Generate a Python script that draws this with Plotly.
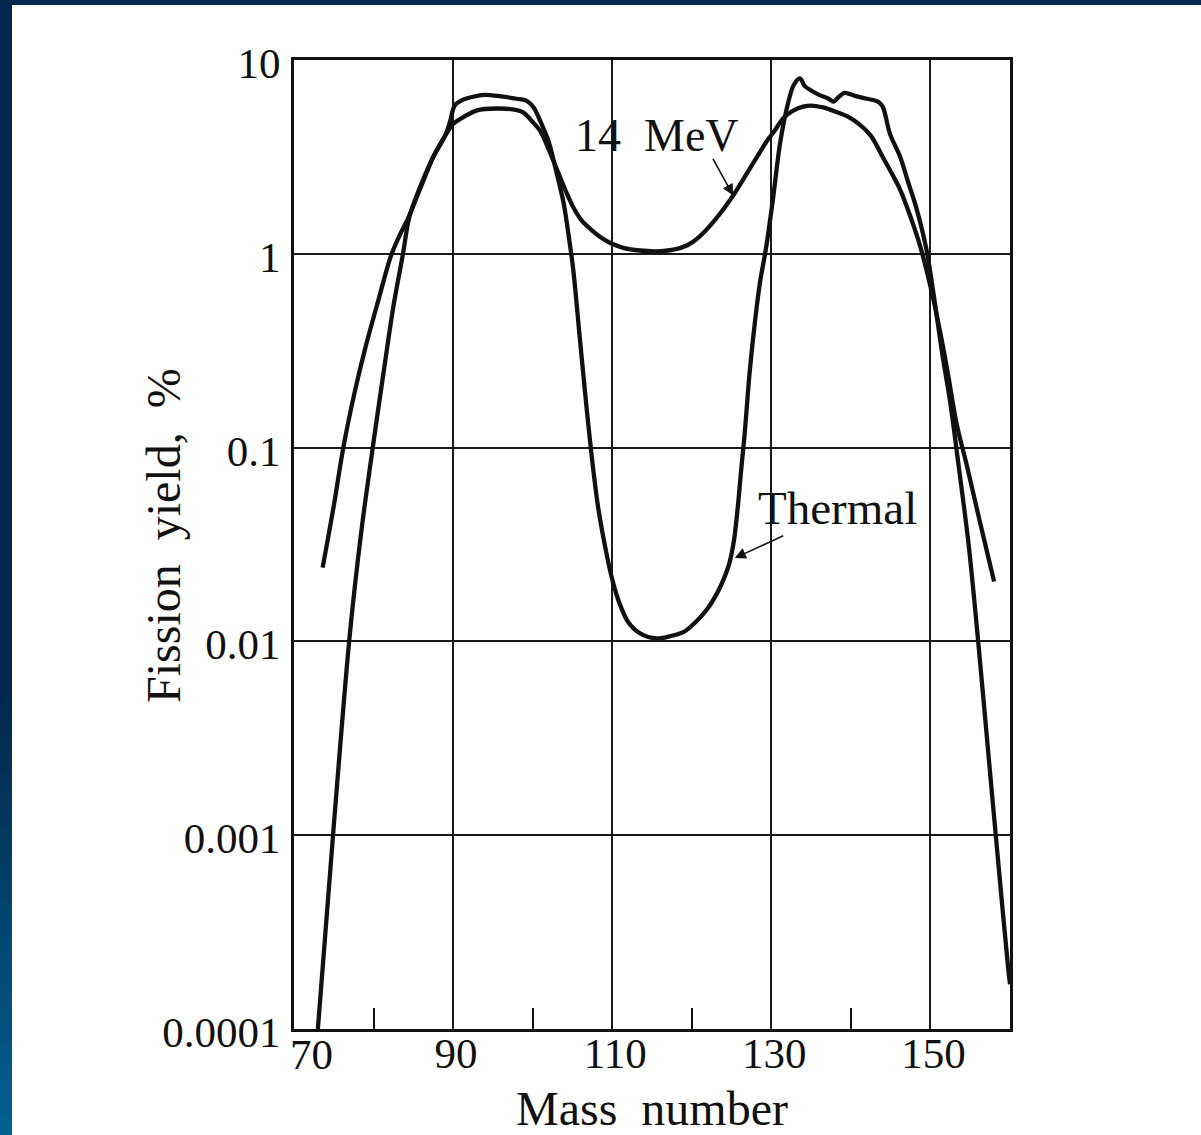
import plotly.graph_objects as go

# ---------------- data ----------------
mass_thermal = [73.0, 75.0, 77.0, 78.5, 80.0, 81.3, 82.5, 83.7, 84.5, 86.0, 87.5, 89.0,
                89.6, 90.2, 91.0, 92.5, 94.0, 96.0, 98.0, 99.2, 100.1, 101.0, 102.0,
                103.0, 103.9, 104.5, 105.1, 105.8, 106.5, 107.3, 108.2, 109.2, 110.0,
                110.9, 112.0, 113.5, 115.6, 117.5, 119.0, 120.5, 121.9, 123.2, 124.0,
                124.7, 125.3, 125.8, 126.2, 126.6, 127.3, 128.0, 128.6, 129.3, 130.2,
                131.1, 132.0, 132.8, 133.6, 134.2, 134.9, 136.0, 137.2, 137.8, 138.5,
                139.2, 140.5, 142.0, 143.4, 144.0, 144.9, 146.2, 147.2, 148.2, 149.5,
                150.4, 151.5, 152.5, 153.5, 154.8, 156.0, 157.5, 158.7, 159.8, 160.0]
yield_thermal = [0.0001, 0.00112, 0.0107, 0.038, 0.107, 0.251, 0.537, 1.0, 1.55, 2.29, 3.16, 4.07,
                 4.79, 5.82, 6.17, 6.46, 6.61, 6.49, 6.31, 6.17, 5.7, 4.79, 3.8,
                 2.63, 1.82, 1.26, 0.83, 0.417, 0.209, 0.1, 0.0501, 0.0295, 0.0209,
                 0.0158, 0.0126, 0.011, 0.01035, 0.0107, 0.0112, 0.0126, 0.0146, 0.0178, 0.0209,
                 0.0251, 0.0331, 0.0501, 0.0759, 0.112, 0.251, 0.468, 0.724, 1.05, 1.91,
                 3.72, 5.75, 7.41, 8.04, 7.33, 7.0, 6.61, 6.31, 6.1, 6.46,
                 6.76, 6.53, 6.31, 6.1, 5.75, 4.17, 3.16, 2.34, 1.74, 1.05,
                 0.617, 0.302, 0.17, 0.0832, 0.0316, 0.01, 0.00209, 0.000603, 0.0002, 0.00017]

mass_14mev = [73.6, 75.0, 76.2, 77.6, 79.0, 80.6, 82.2, 83.3, 84.3, 86.0, 87.5, 89.0, 90.0,
              91.5, 93.0, 95.5, 97.5, 98.8, 100.0, 101.0, 102.0, 103.2, 104.2, 105.1,
              106.2, 107.2, 108.5, 109.7, 111.5, 113.5, 115.5, 117.7, 119.5, 121.0,
              123.0, 125.2, 127.0, 128.2, 129.4, 130.5, 131.5, 132.8, 134.0, 135.0,
              136.5, 138.0, 139.5, 141.0, 142.5, 144.0, 145.2, 146.2, 147.5, 148.7,
              149.6, 150.4, 151.3, 152.2, 153.3, 154.5, 156.2, 158.0]
yield_14mev = [0.024, 0.0501, 0.1, 0.191, 0.331, 0.575, 0.98, 1.25, 1.51, 2.24, 3.16, 4.07, 4.68,
               5.13, 5.5, 5.62, 5.56, 5.37, 4.79, 4.27, 3.47, 2.63, 2.09, 1.74,
               1.48, 1.35, 1.22, 1.14, 1.07, 1.04, 1.03, 1.05, 1.11, 1.23,
               1.51, 2.0, 2.63, 3.16, 3.8, 4.37, 5.01, 5.5, 5.75, 5.82,
               5.69, 5.43, 5.13, 4.68, 4.07, 3.16, 2.57, 2.14, 1.55, 1.1,
               0.794, 0.575, 0.38, 0.24, 0.132, 0.0832, 0.0417, 0.0204]

x_tick_vals = [90, 110, 130, 150]
x_tick_text = ["90", "110", "130", "150"]
x_first_tick = 70
x_minor_vals = [80, 100, 120, 140]
y_tick_vals = [0.0001, 0.001, 0.01, 0.1, 1, 10]
y_tick_text = ["0.0001", "0.001", "0.01", "0.1", "1", "10"]

# label positions (mass number, log10 of yield) for the curve captions
label_14mev = (115.6, 0.613)
arrow_14mev_tip = (125.2, 0.301)
label_thermal = (138.3, -1.312)
arrow_thermal_tip = (125.4, -1.57)

# ---------------- figure ----------------
FONT = "Liberation Serif, Times New Roman, serif"
INK = "#111111"
W, H = 1201, 1135
L, R, T, B = 294, 191, 60, 106
pw, ph = W - L - R, H - T - B


def px_x(px):
    return (px - L) / pw


def px_y(py):
    return (H - B - py) / ph


fig = go.Figure()
line_style = dict(color=INK, width=4.3, shape="spline", smoothing=0.9)
fig.add_trace(go.Scatter(x=mass_thermal, y=yield_thermal, mode="lines",
                         line=line_style, name="Thermal", showlegend=False,
                         hoverinfo="skip"))
fig.add_trace(go.Scatter(x=mass_14mev, y=yield_14mev, mode="lines",
                         line=line_style, name="14 MeV", showlegend=False,
                         hoverinfo="skip"))

fig.update_xaxes(
    range=[70, 160], tickvals=x_tick_vals, ticktext=x_tick_text,
    showgrid=True, gridcolor="#1a1a1a", gridwidth=1.8, zeroline=False,
    showline=True, linecolor=INK, linewidth=3, mirror=True,
    ticks="", ticklabelstandoff=-16, ticklabelshift=3,
    tickfont=dict(family=FONT, size=43, color=INK),
    minor=dict(tickvals=x_minor_vals, ticks="inside", ticklen=21,
               tickwidth=1.6, tickcolor=INK, showgrid=False),
)
fig.update_yaxes(
    type="log", range=[-4, 1], tickvals=y_tick_vals, ticktext=y_tick_text,
    showgrid=True, gridcolor="#1a1a1a", gridwidth=1.8, zeroline=False,
    showline=True, linecolor=INK, linewidth=3, mirror=True,
    ticks="", ticklabelstandoff=2, ticklabelshift=3,
    tickfont=dict(family=FONT, size=43, color=INK),
)

annotations = [
    dict(x=x_first_tick, y=0, xref="x", yref="paper", text=str(x_first_tick),
         showarrow=False, xshift=17, yshift=0, yanchor="top",
         font=dict(family=FONT, size=43, color=INK)),
    dict(x=px_x(652), y=px_y(1108), xref="paper", yref="paper",
         text="Mass\u00a0 number", showarrow=False, xanchor="center", yanchor="middle",
         font=dict(family=FONT, size=48, color=INK)),
    dict(x=px_x(163), y=px_y(536), xref="paper", yref="paper",
         text="Fission\u00a0 yield,\u00a0 %", textangle=-90, showarrow=False,
         xanchor="center", yanchor="middle",
         font=dict(family=FONT, size=48, color=INK)),
    # curve captions and their arrows
    dict(x=label_14mev[0], y=label_14mev[1], xref="x", yref="y", text="14\u00a0 MeV",
         showarrow=False, xanchor="center", yanchor="middle",
         font=dict(family=FONT, size=46, color=INK)),
    dict(x=arrow_14mev_tip[0], y=arrow_14mev_tip[1], xref="x", yref="y", text="",
         showarrow=True, ax=-21, ay=-38, arrowhead=2, arrowsize=1.4, arrowwidth=1.6,
         arrowcolor=INK, standoff=0),
    dict(x=label_thermal[0], y=label_thermal[1], xref="x", yref="y", text="Thermal",
         showarrow=False, xanchor="center", yanchor="middle",
         font=dict(family=FONT, size=47, color=INK)),
    dict(x=arrow_thermal_tip[0], y=arrow_thermal_tip[1], xref="x", yref="y", text="",
         showarrow=True, ax=50, ay=-23, arrowhead=2, arrowsize=1.4, arrowwidth=1.6,
         arrowcolor=INK, standoff=0),
]

# dark slide frame (top strip and left strip with a gradient)
shapes = [
    dict(type="rect", xref="paper", yref="paper", x0=px_x(0), x1=px_x(W),
         y0=px_y(0), y1=px_y(5), fillcolor="#012a50", line=dict(width=0),
         layer="below"),
]
top_col = (1, 40, 76)
bot_col = (4, 96, 146)
n_seg = 24
y_start = 700
for i in range(n_seg):
    y0 = y_start + (H - y_start) * i / n_seg
    y1 = y_start + (H - y_start) * (i + 1) / n_seg
    t = (i + 0.5) / n_seg
    c = tuple(int(round(a + (b - a) * t)) for a, b in zip(top_col, bot_col))
    shapes.append(dict(type="rect", xref="paper", yref="paper",
                       x0=px_x(0), x1=px_x(12), y0=px_y(y0), y1=px_y(y1 + 1),
                       fillcolor="rgb(%d,%d,%d)" % c, line=dict(width=0),
                       layer="below"))
shapes.append(dict(type="rect", xref="paper", yref="paper", x0=px_x(0), x1=px_x(12),
                   y0=px_y(0), y1=px_y(y_start + 1), fillcolor="rgb(1,40,76)",
                   line=dict(width=0), layer="below"))

fig.update_layout(
    width=W, height=H, margin=dict(l=L, r=R, t=T, b=B),
    paper_bgcolor="white", plot_bgcolor="white",
    annotations=annotations, shapes=shapes, showlegend=False,
)

fig.write_html("out.html", config={"displayModeBar": False},
               post_script="document.body.style.margin='0px';")
